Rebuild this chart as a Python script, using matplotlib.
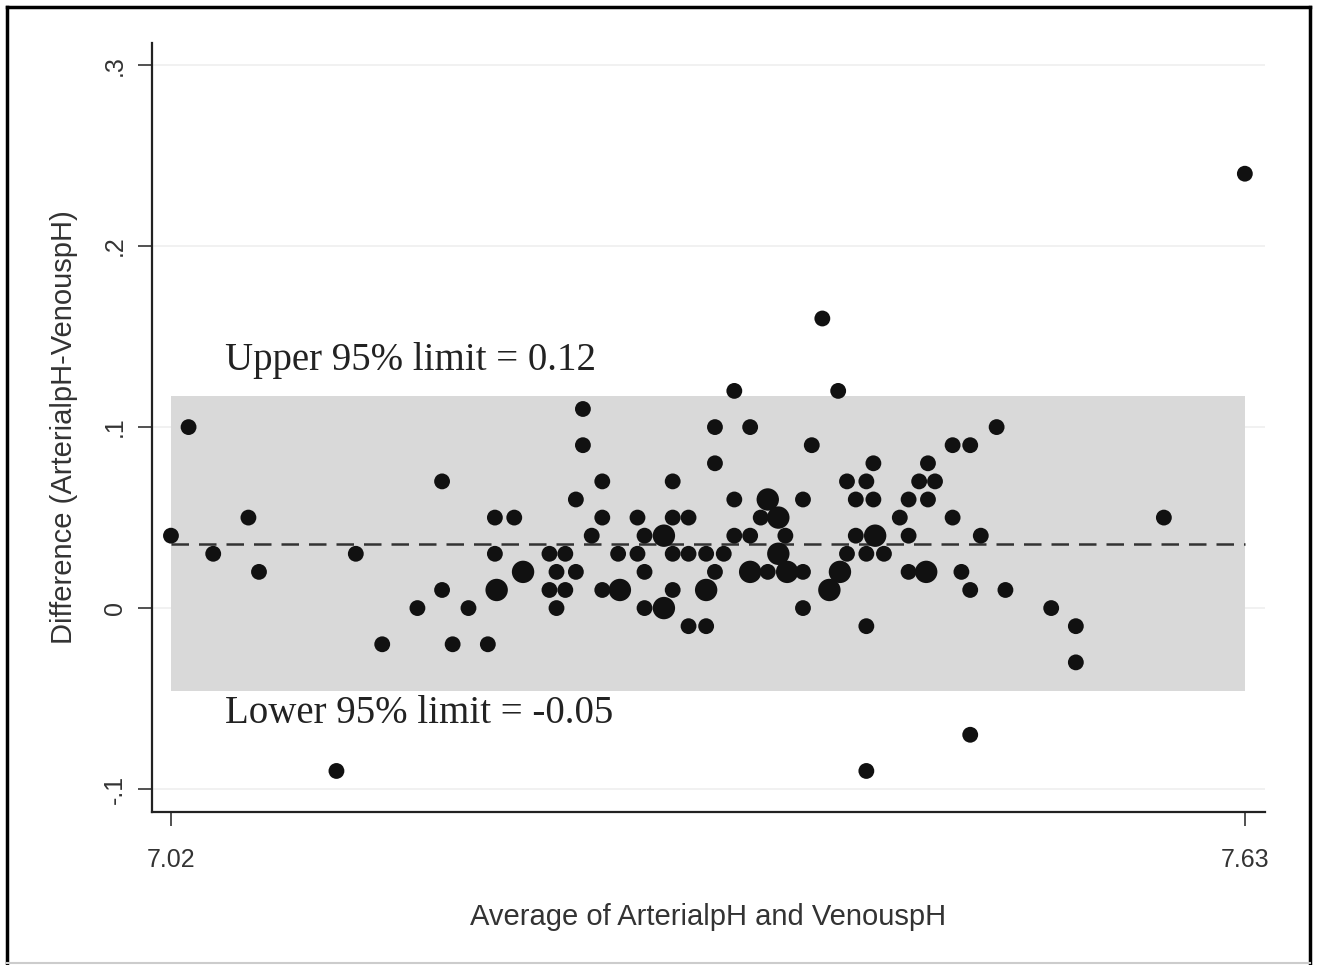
import matplotlib
matplotlib.use("Agg")
import matplotlib.pyplot as plt
from matplotlib.lines import Line2D

# Bland-Altman data: average pH, difference, number of obs at that spot
avg_ph = [7.030, 7.020, 7.044, 7.064, 7.070, 7.125, 7.114, 7.140, 7.160, 7.174,
          7.174, 7.180, 7.189,
          7.254, 7.254, 7.265, 7.305, 7.250, 7.204, 7.215, 7.265, 7.285, 7.259,
          7.289, 7.300, 7.204, 7.235, 7.244, 7.274, 7.285, 7.314, 7.220, 7.239,
          7.250, 7.289, 7.205, 7.235, 7.244, 7.265, 7.275, 7.305, 7.239, 7.289,
          7.300, 7.314, 7.200,
          7.390, 7.340, 7.399, 7.329, 7.349, 7.384, 7.329, 7.419, 7.450, 7.404,
          7.415, 7.445, 7.454, 7.340, 7.359, 7.379, 7.409, 7.419, 7.439, 7.450,
          7.305, 7.314, 7.355, 7.365, 7.434, 7.340, 7.349, 7.369, 7.409, 7.420,
          7.439, 7.305, 7.324, 7.334, 7.365, 7.404, 7.415, 7.425, 7.329, 7.349,
          7.359, 7.370, 7.379, 7.400, 7.439, 7.449, 7.324, 7.394, 7.379, 7.324,
          7.415,
          7.489, 7.464, 7.474, 7.464, 7.584, 7.480, 7.469, 7.474, 7.494, 7.520,
          7.534, 7.534,
          7.630, 7.474, 7.415]
diff_ph = [0.10, 0.04, 0.03, 0.05, 0.02, 0.03, -0.09, -0.02, 0.00, 0.07,
           0.01, -0.02, 0.00,
           0.11, 0.09, 0.07, 0.07, 0.06, 0.05, 0.05, 0.05, 0.05, 0.04,
           0.04, 0.04, 0.03, 0.03, 0.03, 0.03, 0.03, 0.03, 0.02, 0.02,
           0.02, 0.02, 0.01, 0.01, 0.01, 0.01, 0.01, 0.01, 0.00, 0.00,
           0.00, -0.01, -0.02,
           0.16, 0.12, 0.12, 0.10, 0.10, 0.09, 0.08, 0.08, 0.08, 0.07,
           0.07, 0.07, 0.07, 0.06, 0.06, 0.06, 0.06, 0.06, 0.06, 0.06,
           0.05, 0.05, 0.05, 0.05, 0.05, 0.04, 0.04, 0.04, 0.04, 0.04,
           0.04, 0.03, 0.03, 0.03, 0.03, 0.03, 0.03, 0.03, 0.02, 0.02,
           0.02, 0.02, 0.02, 0.02, 0.02, 0.02, 0.01, 0.01, 0.00, -0.01,
           -0.01,
           0.10, 0.09, 0.09, 0.05, 0.05, 0.04, 0.02, 0.01, 0.01, 0.00,
           -0.01, -0.03,
           0.24, -0.07, -0.09]
n_obs = [1, 1, 1, 1, 1, 1, 1, 1, 1, 1,
         1, 1, 1,
         1, 1, 1, 1, 1, 1, 1, 1, 1, 1,
         1, 2, 1, 1, 1, 1, 1, 1, 2, 1,
         1, 1, 2, 1, 1, 1, 2, 1, 1, 1,
         2, 1, 1,
         1, 1, 1, 1, 1, 1, 1, 1, 1, 1,
         1, 1, 1, 1, 2, 1, 1, 1, 1, 1,
         1, 1, 1, 2, 1, 1, 1, 1, 1, 2,
         1, 1, 1, 1, 2, 1, 1, 1, 1, 2,
         1, 2, 1, 2, 1, 2, 2, 2, 1, 1,
         1,
         1, 1, 1, 1, 1, 1, 1, 1, 1, 1,
         1, 1,
         1, 1, 1]

mean_diff = 0.0355
upper_loa = 0.117
lower_loa = -0.046
upper_label = "Upper 95% limit = 0.12"
lower_label = "Lower 95% limit = -0.05"

x_ticks = [7.02, 7.63]
x_tick_labels = ["7.02", "7.63"]
y_ticks = [-0.1, 0, 0.1, 0.2, 0.3]
y_tick_labels = ["-.1", "0", ".1", ".2", ".3"]

sans = ["Liberation Sans", "DejaVu Sans"]

fig = plt.figure(figsize=(13.19, 9.65), dpi=100)
ax = fig.add_axes([0.1152, 0.1585, 0.8438, 0.7969])

# faint grid lines like Stata's default scheme
for yt in y_ticks:
    ax.axhline(yt, color="#efefef", lw=1.2, zorder=0)

x_lo, x_hi = min(avg_ph), max(avg_ph)
ax.fill_between([x_lo, x_hi], lower_loa, upper_loa, color="#d9d9d9", lw=0, zorder=1)
ax.plot([x_lo, x_hi], [mean_diff, mean_diff], color="#333333", lw=1.8,
        dashes=(7, 4), zorder=2)

ax.scatter(avg_ph, diff_ph, s=[130 * n for n in n_obs], color="#111111",
           edgecolors="none", zorder=3)

ax.text(7.0505, upper_loa + 0.02, upper_label, family="Liberation Serif",
        fontsize=28, color="#222222", va="center", ha="left")
ax.text(7.0505, lower_loa - 0.012, lower_label, family="Liberation Serif",
        fontsize=28, color="#222222", va="center", ha="left")

ax.set_xlim(7.0092, 7.6414)
ax.set_ylim(-0.1127, 0.3122)
ax.set_xticks(x_ticks)
ax.set_xticklabels(x_tick_labels, family=sans, fontsize=18, color="#333333")
ax.set_yticks(y_ticks)
ax.set_yticklabels(y_tick_labels, family=sans, fontsize=18, color="#333333",
                   rotation=90, va="center")
ax.tick_params(axis="both", direction="out", length=10, width=1.2, color="#333333")
ax.tick_params(axis="x", pad=16)
ax.tick_params(axis="y", pad=8)

for side in ["top", "right"]:
    ax.spines[side].set_visible(False)
for side in ["left", "bottom"]:
    ax.spines[side].set_linewidth(1.6)
    ax.spines[side].set_color("#222222")

ax.set_xlabel("Average of ArterialpH and VenouspH", family=sans, fontsize=21,
              color="#333333", labelpad=22)
ax.set_ylabel("Difference (ArterialpH-VenouspH)", family=sans, fontsize=21,
              color="#333333", labelpad=18)

# outer frame around the picture
fig.add_artist(Line2D([0.0053, 0.0053], [0.0, 0.9927], transform=fig.transFigure, color="black", lw=2.5))
fig.add_artist(Line2D([0.0053, 0.9932], [0.9927, 0.9927], transform=fig.transFigure, color="black", lw=2.5))
fig.add_artist(Line2D([0.9932, 0.9932], [0.0, 0.9927], transform=fig.transFigure, color="black", lw=2.5))
fig.add_artist(Line2D([0.0053, 0.9932], [0.002, 0.002], transform=fig.transFigure, color="#cccccc", lw=1.5))

fig.savefig("out.png", dpi=100)
